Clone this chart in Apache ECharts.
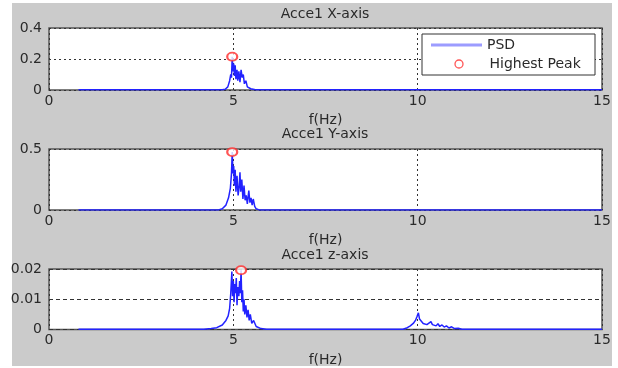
<!DOCTYPE html>
<html>
<head>
<meta charset="utf-8">
<script src="https://cdn.jsdelivr.net/npm/echarts@6/dist/echarts.min.js"></script>
<style>
html,body{margin:0;padding:0;background:#fff;}
#c{width:618px;height:368px;}
</style>
</head>
<body>
<div id="c"></div>
<script>
// ---- data ----
const titles = ['Acce1 X-axis', 'Acce1 Y-axis', 'Acce1 z-axis'];
const xLabel = 'f(Hz)';
const xTicks = [0, 5, 10, 15];
const yTicksX = [0, 0.2, 0.4];
const yTicksY = [0, 0.5];
const yTicksZ = [0, 0.01, 0.02];
const legendNames = ['PSD', 'Highest Peak'];

// PSD [frequency Hz, value]
const psdX = [[0.8,0.001],[4.7,0.001],[4.78,0.005],[4.85,0.02],[4.9,0.06],[4.93,0.1],[4.95,0.08],[4.97,0.215],[4.99,0.12],[5.01,0.17],[5.03,0.09],[5.05,0.16],[5.07,0.07],[5.1,0.13],[5.12,0.06],[5.15,0.12],[5.18,0.05],[5.21,0.13],[5.24,0.08],[5.27,0.1],[5.3,0.04],[5.34,0.06],[5.38,0.02],[5.42,0.025],[5.47,0.008],[5.52,0.01],[5.6,0.002],[5.7,0.001],[15,0.001]];
const psdY = [[0.8,0.001],[4.6,0.001],[4.7,0.01],[4.8,0.04],[4.87,0.1],[4.92,0.18],[4.95,0.3],[4.97,0.475],[4.99,0.3],[5.01,0.36],[5.03,0.2],[5.05,0.33],[5.07,0.15],[5.1,0.28],[5.13,0.12],[5.16,0.2],[5.18,0.31],[5.2,0.15],[5.23,0.25],[5.26,0.09],[5.29,0.2],[5.32,0.08],[5.35,0.12],[5.38,0.05],[5.42,0.16],[5.45,0.06],[5.48,0.1],[5.51,0.04],[5.54,0.09],[5.58,0.03],[5.62,0.01],[5.7,0.001],[15,0.001]];
const psdZ = [[0.8,0.0001],[4.2,0.0001],[4.4,0.0003],[4.55,0.0006],[4.7,0.0015],[4.8,0.003],[4.86,0.0045],[4.9,0.007],[4.93,0.012],[4.96,0.0192],[4.98,0.011],[5.0,0.016],[5.02,0.009],[5.04,0.015],[5.06,0.012],[5.08,0.017],[5.1,0.008],[5.12,0.014],[5.15,0.011],[5.17,0.016],[5.19,0.012],[5.21,0.0196],[5.23,0.009],[5.25,0.013],[5.27,0.006],[5.29,0.01],[5.31,0.005],[5.34,0.008],[5.37,0.004],[5.4,0.0065],[5.43,0.003],[5.46,0.005],[5.5,0.002],[5.55,0.003],[5.62,0.001],[5.75,0.0003],[5.9,0.0001],[9.6,0.0001],[9.72,0.0006],[9.8,0.0012],[9.88,0.002],[9.94,0.003],[9.98,0.0042],[10.02,0.0055],[10.05,0.0035],[10.1,0.003],[10.15,0.002],[10.2,0.0022],[10.25,0.0016],[10.3,0.0018],[10.36,0.0026],[10.4,0.0016],[10.45,0.0022],[10.5,0.0012],[10.55,0.0019],[10.6,0.001],[10.66,0.0015],[10.72,0.0008],[10.78,0.0012],[10.85,0.0005],[10.92,0.0009],[11.0,0.0003],[11.1,0.0004],[11.2,0.0001],[15,0.0001]];

const peakX = [[4.97, 0.215]];
const peakY = [[4.97, 0.475]];
const peakZ = [[5.21, 0.0196]];

// ---- chart ----
const FONT = 'DejaVu Sans';
const TXT = '#2a2a2a';
const chart = echarts.init(document.getElementById('c'), null, {renderer: 'canvas'});

const grids = [
  {left: 49, right: 16, top: 28, height: 62},
  {left: 49, right: 16, top: 149, height: 61},
  {left: 49, right: 16, top: 269, height: 61}
];
const yTickSets = [yTicksX, yTicksY, yTicksZ];
const psdSets = [psdX, psdY, psdZ];
const peakSets = [peakX, peakY, peakZ];
const dashTypes = [[2, 3], [2, 3], [4, 3]];

const gridOpts = grids.map(g => Object.assign({
  show: true, backgroundColor: '#fff', borderColor: '#555', borderWidth: 1.5
}, g));

const xAxes = grids.map((g, i) => ({
  type: 'value', gridIndex: i,
  min: xTicks[0], max: xTicks[xTicks.length - 1], interval: xTicks[1] - xTicks[0],
  name: xLabel, nameLocation: 'middle', nameGap: 23.5,
  nameTextStyle: {fontFamily: FONT, fontSize: 14, color: TXT},
  axisLine: {show: false}, axisTick: {show: false},
  axisLabel: {fontFamily: FONT, fontSize: 14, color: TXT, margin: 4},
  splitLine: {show: true, lineStyle: {color: '#333', type: [2, 3], width: 1}}
}));

const yAxes = yTickSets.map((t, i) => ({
  type: 'value', gridIndex: i,
  min: t[0], max: t[t.length - 1], interval: t[1] - t[0],
  axisLine: {show: false}, axisTick: {show: false},
  axisLabel: {fontFamily: FONT, fontSize: 14, color: TXT, margin: 7},
  splitLine: {show: true, lineStyle: {color: '#333', type: dashTypes[i], width: 1}}
}));

const series = [];
psdSets.forEach((d, i) => {
  series.push({
    name: legendNames[0], type: 'line', xAxisIndex: i, yAxisIndex: i,
    data: d, symbol: 'none', lineStyle: {color: '#2222ff', width: 1.5}, itemStyle: {color: '#2222ff'},
    animation: false, z: 2
  });
});
peakSets.forEach((d, i) => {
  series.push({
    name: legendNames[1], type: 'scatter', xAxisIndex: i, yAxisIndex: i,
    data: d, symbol: 'emptyCircle', symbolSize: [10, 8],
    itemStyle: {color: '#ff2b2b', borderColor: '#ff2b2b', borderWidth: 1.2},
    animation: false, z: 3
  });
});

const titleGraphics = titles.map((t, i) => ({
  type: 'text', x: 325, y: [14, 134, 255][i], z: 10,
  style: {text: t, fontFamily: FONT, fontSize: 14, fill: TXT, textAlign: 'center', textVerticalAlign: 'middle'}
}));

// ring icon for legend, centred in a 51x8 box
const ringIcon = 'path://M0,0 M51,8 M29.5,4 A4,4 0 1,1 21.5,4 A4,4 0 1,1 29.5,4 Z';

chart.setOption({
  animation: false,
  backgroundColor: '#fff',
  graphic: [
    {type: 'rect', shape: {x: 12, y: 3, width: 600, height: 363}, style: {fill: '#cbcbcb'}, z: -1},
    {type: 'rect', shape: {x: 422, y: 34, width: 173, height: 41}, style: {fill: '#fff', stroke: '#333', lineWidth: 1}, z: 5}
  ].concat(titleGraphics),
  grid: gridOpts,
  xAxis: xAxes,
  yAxis: yAxes,
  legend: [
    {data: [{name: legendNames[0], icon: 'rect', itemStyle: {color: '#9c9cff', borderWidth: 0}}],
     left: 431, top: 38, padding: 0, itemWidth: 51, itemHeight: 3, z: 6,
     textStyle: {fontFamily: FONT, fontSize: 14, color: TXT}},
    {data: [{name: legendNames[1], icon: ringIcon,
             itemStyle: {color: 'none', borderColor: '#ff2b2b', borderWidth: 1.3}}],
     left: 431, top: 57, padding: 0, itemWidth: 51, itemHeight: 8, z: 6,
     textStyle: {fontFamily: FONT, fontSize: 14, color: TXT}}
  ],
  series: series
});
</script>
</body>
</html>
